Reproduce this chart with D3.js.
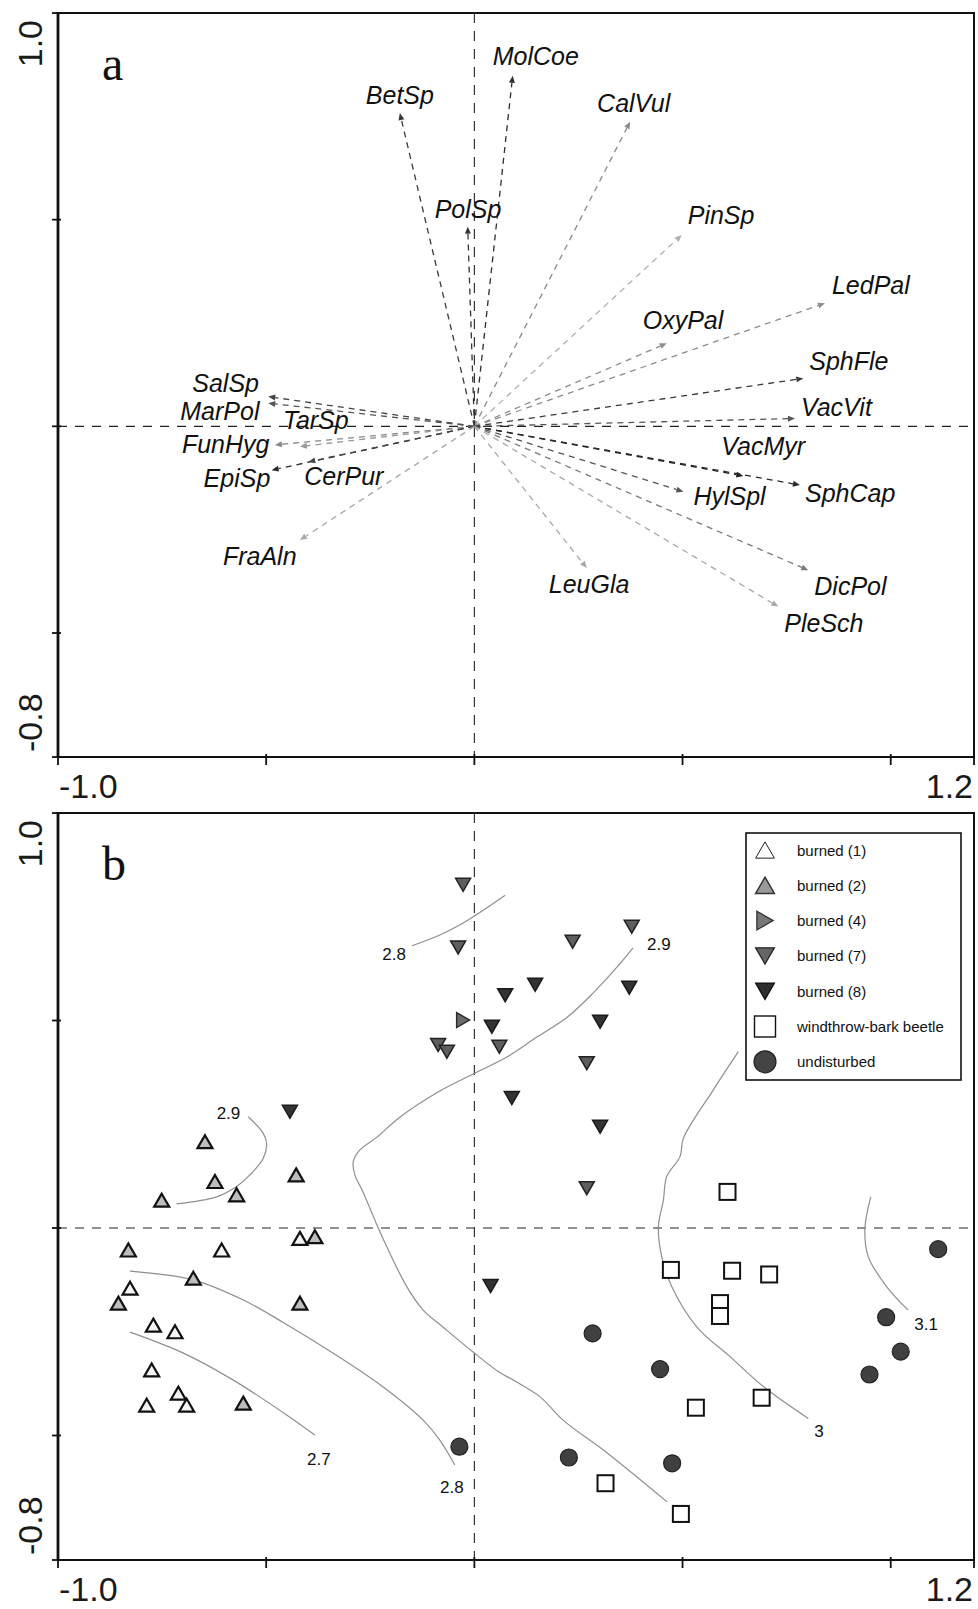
<!DOCTYPE html>
<html>
<head>
<meta charset="utf-8">
<script src="https://cdn.jsdelivr.net/npm/d3@7"></script>
<style>
  html, body { margin: 0; padding: 0; background: #fff; }
  svg { display: block; }
</style>
</head>
<body>
<div id="chart"></div>
<script>
// ---------------- data ----------------
// Species scores on ordination axes 1 and 2 (panel a, biplot arrows)
const speciesNames = ["BetSp","MolCoe","CalVul","PolSp","PinSp","LedPal","OxyPal","SphFle","VacVit",
  "VacMyr","SphCap","HylSpl","DicPol","PleSch","LeuGla","SalSp","MarPol","TarSp","FunHyg","EpiSp","CerPur","FraAln"];
const speciesAxis1 = [-0.179, 0.092, 0.374, -0.016, 0.498, 0.842, 0.462, 0.790, 0.770,
  0.646, 0.782, 0.502, 0.802, 0.730, 0.270, -0.495, -0.495, -0.419, -0.479, -0.487, -0.399, -0.419];
const speciesAxis2 = [0.758, 0.848, 0.737, 0.483, 0.463, 0.298, 0.201, 0.116, 0.019,
  -0.120, -0.142, -0.158, -0.348, -0.436, -0.343, 0.072, 0.056, -0.049, -0.045, -0.106, -0.086, -0.275];

// Plot scores (panel b), one array per disturbance group: [axis1, axis2]
const burned1 = [[-0.607,-0.053],[-0.419,-0.025],[-0.827,-0.145],[-0.771,-0.234],[-0.719,-0.250],
  [-0.775,-0.342],[-0.711,-0.398],[-0.787,-0.427],[-0.691,-0.427]];
const burned2 = [[-0.647,0.208],[-0.623,0.112],[-0.571,0.080],[-0.751,0.067],[-0.428,0.128],
  [-0.831,-0.053],[-0.383,-0.021],[-0.675,-0.121],[-0.855,-0.181],[-0.419,-0.181],[-0.555,-0.422]];
const burned4 = [[-0.027,0.501]];
const burned7 = [[-0.027,0.827],[-0.039,0.676],[0.236,0.690],[0.378,0.726],[-0.087,0.441],
  [-0.066,0.425],[0.060,0.437],[0.270,0.397],[0.270,0.096]];
const burned8 = [[0.146,0.586],[0.074,0.561],[0.372,0.579],[0.042,0.485],[0.302,0.497],
  [0.090,0.313],[0.302,0.244],[-0.443,0.280],[0.039,-0.140]];
const windthrow = [[0.608,0.087],[0.472,-0.101],[0.619,-0.103],[0.708,-0.112],[0.590,-0.181],
  [0.590,-0.212],[0.690,-0.409],[0.532,-0.433],[0.315,-0.615],[0.496,-0.689]];
const undisturbed = [[1.114,-0.051],[0.284,-0.254],[0.446,-0.340],[0.989,-0.215],[1.024,-0.298],
  [0.949,-0.353],[0.227,-0.553],[0.475,-0.567],[-0.036,-0.527]];

// Fitted isolines (panel b)
const contour28Upper = [[-0.150,0.680],[-0.083,0.706],[-0.027,0.735],[0.014,0.761],[0.074,0.802]];
const contour29Main = [[0.381,0.675],[0.343,0.629],[0.285,0.566],[0.223,0.508],[0.150,0.460],
  [0.078,0.412],[-0.003,0.371],[-0.083,0.330],[-0.179,0.267],[-0.234,0.219],[-0.275,0.188],
  [-0.291,0.159],[-0.287,0.128],[-0.270,0.092],[-0.251,0.048],[-0.234,0.007],[-0.210,-0.046],
  [-0.162,-0.142],[-0.123,-0.198],[-0.075,-0.239],[-0.003,-0.299],[0.062,-0.349],[0.093,-0.366],
  [0.158,-0.407],[0.213,-0.463],[0.319,-0.542],[0.463,-0.660]];
const contour29Left = [[-0.543,0.268],[-0.507,0.228],[-0.499,0.204],[-0.507,0.168],[-0.539,0.128],
  [-0.571,0.100],[-0.619,0.075],[-0.715,0.058]];
const contour28Lower = [[-0.827,-0.104],[-0.676,-0.125],[-0.556,-0.173],[-0.460,-0.227],[-0.340,-0.301],
  [-0.219,-0.383],[-0.123,-0.463],[-0.083,-0.511],[-0.047,-0.571]];
const contour27 = [[-0.827,-0.251],[-0.700,-0.301],[-0.580,-0.366],[-0.450,-0.451],[-0.383,-0.499]];
const contour30 = [[0.634,0.425],[0.574,0.333],[0.502,0.216],[0.494,0.172],[0.462,0.124],[0.454,0.067],
  [0.442,0.003],[0.450,-0.069],[0.474,-0.141],[0.534,-0.238],[0.614,-0.310],[0.694,-0.382],[0.802,-0.459]];
const contour31 = [[0.952,0.075],[0.938,-0.001],[0.946,-0.069],[0.990,-0.141],[1.042,-0.198]];

const contourLabels = ["2.8","2.9","2.9","2.8","2.7","3","3.1"];
const legendLabels = ["burned (1)","burned (2)","burned (4)","burned (7)","burned (8)","windthrow-bark beetle","undisturbed"];
const xTickValues = [-1.0, -0.5, 0, 0.5, 1.0, 1.2];
const yTickValues = [-0.8, -0.5, 0, 0.5, 1.0];
const axisEndLabels = { xMin: "-1.0", xMax: "1.2", yMin: "-0.8", yMax: "1.0" };

// ---------------- layout & style ----------------
const W = 978, H = 1609;
const left = 58, right = 974;
const panelA = { top: 13, bottom: 757, letter: "a" };
const panelB = { top: 813, bottom: 1560, letter: "b" };

// arrow colours and label offsets (px from arrow tip to label's left baseline)
const arrowColor = {
  BetSp:"#3a3a3a", MolCoe:"#2e2e2e", CalVul:"#8a8a8a", PolSp:"#333", PinSp:"#b0b0b0", LedPal:"#8c8c8c",
  OxyPal:"#8c8c8c", SphFle:"#3a3a3a", VacVit:"#555", VacMyr:"#1e1e1e", SphCap:"#2a2a2a", HylSpl:"#555",
  DicPol:"#7a7a7a", PleSch:"#a8a8a8", LeuGla:"#a8a8a8", SalSp:"#444", MarPol:"#555", TarSp:"#999",
  FunHyg:"#888", EpiSp:"#2a2a2a", CerPur:"#444", FraAln:"#aaaaaa"
};
const labelOffset = {
  BetSp:[-34,-9], MolCoe:[-20,-11], CalVul:[-33,-10], PolSp:[-33,-9], PinSp:[6,-11], LedPal:[7,-9],
  OxyPal:[-24,-14], SphFle:[6,-8], VacVit:[6,-2], VacMyr:[-22,-21], SphCap:[5,17], HylSpl:[10,13],
  DicPol:[6,25], PleSch:[6,25], LeuGla:[-38,25], SalSp:[-76,-5], MarPol:[-88,17], TarSp:[-17,-18],
  FunHyg:[-93,8], EpiSp:[-68,17], CerPur:[-4,23], FraAln:[-77,25]
};

const sans = "'Liberation Sans', Arial, Helvetica, sans-serif";
const serif = "'Liberation Serif', 'Times New Roman', serif";

const svg = d3.select("#chart").append("svg").attr("width", W).attr("height", H);
svg.append("rect").attr("width", W).attr("height", H).attr("fill", "#fff");

const x = d3.scaleLinear().domain([-1.0, 1.2]).range([left, right]);

function drawFrame(p, y) {
  const g = svg.append("g");
  // reference lines through the origin
  g.append("line").attr("x1", left).attr("x2", right).attr("y1", y(0)).attr("y2", y(0))
    .attr("stroke", "#222").attr("stroke-width", 1.1).attr("stroke-dasharray", "9,8");
  g.append("line").attr("x1", x(0)).attr("x2", x(0)).attr("y1", p.top).attr("y2", p.bottom)
    .attr("stroke", "#222").attr("stroke-width", 1.1).attr("stroke-dasharray", "10,8");

  // frame
  g.append("rect").attr("x", left).attr("y", p.top).attr("width", right - left).attr("height", p.bottom - p.top)
    .attr("fill", "none").attr("stroke", "#111").attr("stroke-width", 2);
  g.append("line").attr("x1", left).attr("x2", left).attr("y1", p.top).attr("y2", p.bottom)
    .attr("stroke", "#111").attr("stroke-width", 2.8);

  // ticks
  g.selectAll(".xt").data(xTickValues).join("line")
    .attr("x1", d => x(d)).attr("x2", d => x(d))
    .attr("y1", p.bottom - 3).attr("y2", p.bottom + 8)
    .attr("stroke", "#111").attr("stroke-width", 1.8);
  g.selectAll(".yt").data(yTickValues).join("line")
    .attr("x1", left - 6).attr("x2", left + 3)
    .attr("y1", d => y(d)).attr("y2", d => y(d))
    .attr("stroke", "#111").attr("stroke-width", 1.8);

  // end labels
  g.append("text").attr("x", x(-1.0) + 1).attr("y", p.bottom + 41)
    .attr("font-family", sans).attr("font-size", 34).attr("fill", "#1a1a1a").text(axisEndLabels.xMin);
  g.append("text").attr("x", x(1.2) - 1).attr("y", p.bottom + 41).attr("text-anchor", "end")
    .attr("font-family", sans).attr("font-size", 34).attr("fill", "#1a1a1a").text(axisEndLabels.xMax);
  g.append("text").attr("transform", `translate(42,${y(1.0) + 7}) rotate(-90)`).attr("text-anchor", "end")
    .attr("font-family", sans).attr("font-size", 34).attr("fill", "#1a1a1a").text(axisEndLabels.yMax);
  g.append("text").attr("transform", `translate(42,${y(-0.8) - 5}) rotate(-90)`).attr("text-anchor", "start")
    .attr("font-family", sans).attr("font-size", 34).attr("fill", "#1a1a1a").text(axisEndLabels.yMin);

  // panel letter
  g.append("text").attr("x", 102).attr("y", p.top + 67)
    .attr("font-family", serif).attr("font-size", 48).attr("fill", "#111").text(p.letter);
}

// ---------------- panel a: species arrows ----------------
const ya = d3.scaleLinear().domain([-0.8, 1.0]).range([panelA.bottom, panelA.top]);
drawFrame(panelA, ya);

const arrows = svg.append("g");
const ox = x(0), oy = ya(0);
speciesNames.forEach((name, i) => {
  const tx = x(speciesAxis1[i]), ty = ya(speciesAxis2[i]);
  const dx = tx - ox, dy = ty - oy, len = Math.hypot(dx, dy);
  const ux = dx / len, uy = dy / len;
  const headLen = 7, headHalf = 3;
  const bx = tx - ux * headLen, by = ty - uy * headLen;
  const col = arrowColor[name];
  arrows.append("line").attr("x1", ox).attr("y1", oy).attr("x2", bx).attr("y2", by)
    .attr("stroke", col).attr("stroke-width", 1.3).attr("stroke-dasharray", "6,5");
  arrows.append("path")
    .attr("d", `M${tx},${ty}L${bx - uy * headHalf},${by + ux * headHalf}L${bx + uy * headHalf},${by - ux * headHalf}Z`)
    .attr("fill", col);
  const off = labelOffset[name];
  arrows.append("text").attr("x", tx + off[0]).attr("y", ty + off[1])
    .attr("font-family", sans).attr("font-style", "italic").attr("font-size", 25)
    .attr("fill", "#111").text(name);
});

// ---------------- panel b: plot scores with isolines ----------------
const yb = d3.scaleLinear().domain([-0.8, 1.0]).range([panelB.bottom, panelB.top]);
drawFrame(panelB, yb);

const contourLine = d3.line().x(d => x(d[0])).y(d => yb(d[1])).curve(d3.curveCatmullRom.alpha(0.5));
const contours = [contour28Upper, contour29Main, contour29Left, contour28Lower, contour27, contour30, contour31];
// label placement: which end, anchor, px offset
const contourLabelPlace = [
  { end: 0, anchor: "end", dx: -6, dy: 14 },
  { end: 0, anchor: "start", dx: 14, dy: 2 },
  { end: 0, anchor: "end", dx: -8, dy: 2 },
  { end: 1, anchor: "middle", dx: -3, dy: 28 },
  { end: 1, anchor: "middle", dx: 4, dy: 30 },
  { end: 1, anchor: "start", dx: 6, dy: 19 },
  { end: 1, anchor: "start", dx: 6, dy: 20 }
];
const cg = svg.append("g");
contours.forEach((pts, i) => {
  cg.append("path").attr("d", contourLine(pts)).attr("fill", "none")
    .attr("stroke", "#8f8f8f").attr("stroke-width", 1.2);
  const pl = contourLabelPlace[i];
  const p = pl.end === 0 ? pts[0] : pts[pts.length - 1];
  cg.append("text").attr("x", x(p[0]) + pl.dx).attr("y", yb(p[1]) + pl.dy)
    .attr("text-anchor", pl.anchor).attr("font-family", sans).attr("font-size", 17)
    .attr("fill", "#111").text(contourLabels[i]);
});

// marker shapes (centred on bounding box)
const upTri = (w, h) => `M0,${-h/2}L${w/2},${h/2}L${-w/2},${h/2}Z`;
const downTri = (w, h) => `M${-w/2},${-h/2}L${w/2},${-h/2}L0,${h/2}Z`;
const rightTri = (w, h) => `M${-h/2},${-w/2}L${h/2},0L${-h/2},${w/2}Z`;

const groups = [
  { data: burned1, shape: "up", fill: "#f4f4f4", stroke: "#111", sw: 2.2 },
  { data: burned2, shape: "up", fill: "#bdbdbd", stroke: "#111", sw: 2.2 },
  { data: burned4, shape: "right", fill: "#6a6a6a", stroke: "#2a2a2a", sw: 1.4 },
  { data: burned7, shape: "down", fill: "#5e5e5e", stroke: "#222", sw: 1.5 },
  { data: burned8, shape: "down", fill: "#333", stroke: "#1a1a1a", sw: 1.5 },
  { data: windthrow, shape: "square", fill: "#fff", stroke: "#111", sw: 2 },
  { data: undisturbed, shape: "circle", fill: "#404040", stroke: "#222", sw: 1.2 }
];

function drawShape(sel, g, big) {
  const s = big ? 1.25 : 1;
  if (g.shape === "circle") {
    sel.append("circle").attr("r", (big ? 11 : 8.5)).attr("fill", g.fill).attr("stroke", g.stroke).attr("stroke-width", g.sw);
  } else if (g.shape === "square") {
    const a = big ? 21 : 16;
    sel.append("rect").attr("x", -a/2).attr("y", -a/2).attr("width", a).attr("height", a)
      .attr("fill", g.fill).attr("stroke", g.stroke).attr("stroke-width", g.sw);
  } else {
    const w = 15 * s, h = 13 * s;
    const d = g.shape === "up" ? upTri(w, h) : g.shape === "down" ? downTri(w, h) : rightTri(w, h);
    sel.append("path").attr("d", d).attr("fill", g.fill).attr("stroke", g.stroke)
      .attr("stroke-width", g.sw).attr("stroke-linejoin", "miter");
  }
}

const mg = svg.append("g");
groups.forEach(g => {
  g.data.forEach(d => {
    const node = mg.append("g").attr("transform", `translate(${x(d[0])},${yb(d[1])})`);
    drawShape(node, g, false);
  });
});

// legend
const lg = svg.append("g").attr("transform", "translate(746,833)");
lg.append("rect").attr("width", 215).attr("height", 247).attr("fill", "#fff")
  .attr("stroke", "#111").attr("stroke-width", 1.6);
const legendStyles = [
  { shape: "up", fill: "#fff", stroke: "#222", sw: 1 },
  { shape: "up", fill: "#9a9a9a", stroke: "#333", sw: 1.5 },
  { shape: "right", fill: "#777", stroke: "#333", sw: 1.3 },
  { shape: "down", fill: "#666", stroke: "#222", sw: 1.3 },
  { shape: "down", fill: "#2e2e2e", stroke: "#111", sw: 1.3 },
  { shape: "square", fill: "#fff", stroke: "#111", sw: 1.4 },
  { shape: "circle", fill: "#444", stroke: "#222", sw: 1.2 }
];
legendLabels.forEach((lab, i) => {
  const row = lg.append("g").attr("transform", `translate(0,${17 + i * 35.3})`);
  const sym = row.append("g").attr("transform", "translate(19,0)");
  drawShape(sym, legendStyles[i], true);
  row.append("text").attr("x", 51).attr("y", 5.5).attr("font-family", sans).attr("font-size", 15)
    .attr("fill", "#111").text(lab);
});
</script>
</body>
</html>
